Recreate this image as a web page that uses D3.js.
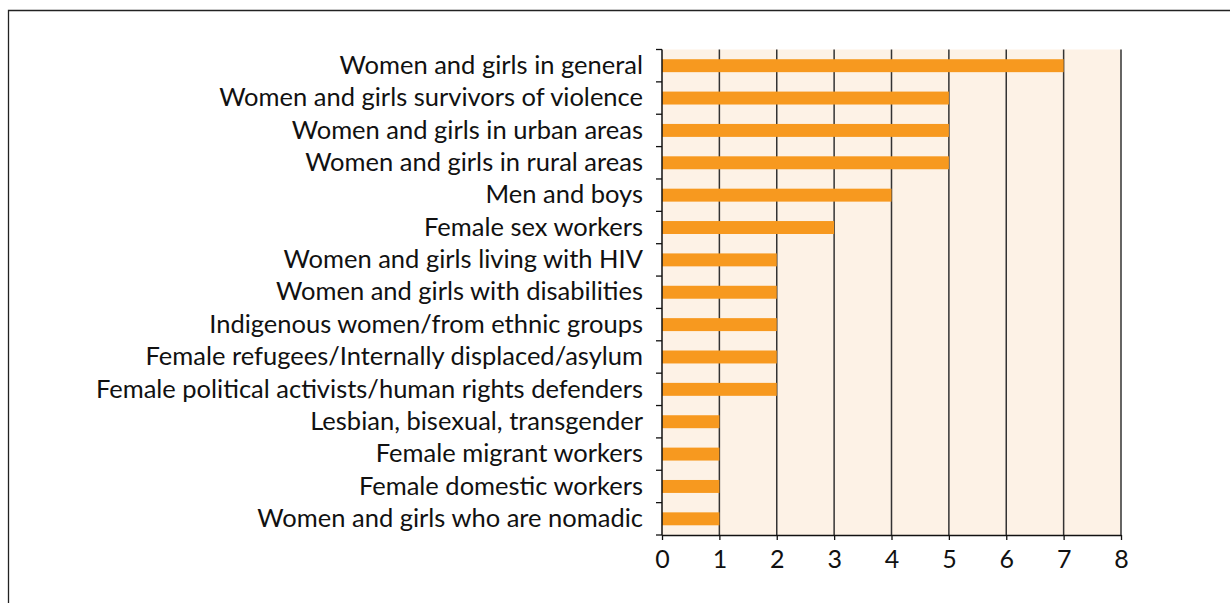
<!DOCTYPE html>
<html><head><meta charset="utf-8">
<script src="https://cdn.jsdelivr.net/npm/d3@7"></script>
<style>body{margin:0;background:#fff}svg{display:block}</style>
</head><body>
<svg id="c" width="1230" height="603"></svg>
<script>
const categories = [
  "Women and girls in general",
  "Women and girls survivors of violence",
  "Women and girls in urban areas",
  "Women and girls in rural areas",
  "Men and boys",
  "Female sex workers",
  "Women and girls living with HIV",
  "Women and girls with disabilities",
  "Indigenous women/from ethnic groups",
  "Female refugees/Internally displaced/asylum",
  "Female political activists/human rights defenders",
  "Lesbian, bisexual, transgender",
  "Female migrant workers",
  "Female domestic workers",
  "Women and girls who are nomadic"
];
const values = [7,5,5,5,4,3,2,2,2,2,2,1,1,1,1];
const xTicks = [0,1,2,3,4,5,6,7,8];

const svg = d3.select("#c");
const font = "Lato, 'Open Sans', sans-serif";
// frame
svg.append("path").attr("d","M8.5,603 L8.5,10.5 L1230,10.5").attr("fill","none").attr("stroke","#222").attr("stroke-width",1.3);

const L=662, R=1121, T=49.5, B=535;
const x = d3.scaleLinear().domain([0,8]).range([L,R]);
const y = d3.scaleBand().domain(categories).range([T,B]).paddingInner(0.6).paddingOuter(0.3);
const yb = d3.scaleBand().domain(categories).range([T,B]);

svg.append("rect").attr("x",L).attr("y",T).attr("width",R-L).attr("height",B-T).attr("fill","#fdf2e6");
svg.append("g").selectAll("line").data(xTicks.slice(1)).join("line")
  .attr("x1",d=>x(d)).attr("x2",d=>x(d)).attr("y1",T).attr("y2",B)
  .attr("stroke","#333").attr("stroke-width",1.5);

svg.append("g").selectAll("rect").data(values).join("rect")
  .attr("x",x(0)).attr("y",(d,i)=>y(categories[i]))
  .attr("width",d=>x(d)-x(0)).attr("height",y.bandwidth())
  .attr("fill","#f7991f");

// y axis
const ya = svg.append("g").attr("transform",`translate(${L},0)`)
  .call(d3.axisLeft(yb).tickSize(0).tickPadding(19));
ya.select(".domain").remove();
ya.selectAll("text").attr("font-family",font).attr("font-size",25.5).attr("fill","#111");
// y tick marks at band edges
const edges = categories.map(c=>yb(c)).concat([B]);
svg.append("g").selectAll("line").data(edges).join("line")
  .attr("x1",L-6).attr("x2",L).attr("y1",d=>d).attr("y2",d=>d).attr("stroke","#111").attr("stroke-width",1.3);
svg.append("line").attr("x1",L).attr("x2",L).attr("y1",T).attr("y2",B).attr("stroke","#111").attr("stroke-width",1.5);

const xa = svg.append("g").attr("transform",`translate(0,${B})`)
  .call(d3.axisBottom(x).tickValues(xTicks).tickSize(5).tickPadding(10).tickSizeOuter(0));
xa.select(".domain").attr("stroke","#111").attr("stroke-width",1.5);
xa.selectAll(".tick line").attr("stroke","#111").attr("stroke-width",1.3);
xa.selectAll("text").attr("font-family",font).attr("font-size",25).attr("fill","#111");
</script>
</body></html>
